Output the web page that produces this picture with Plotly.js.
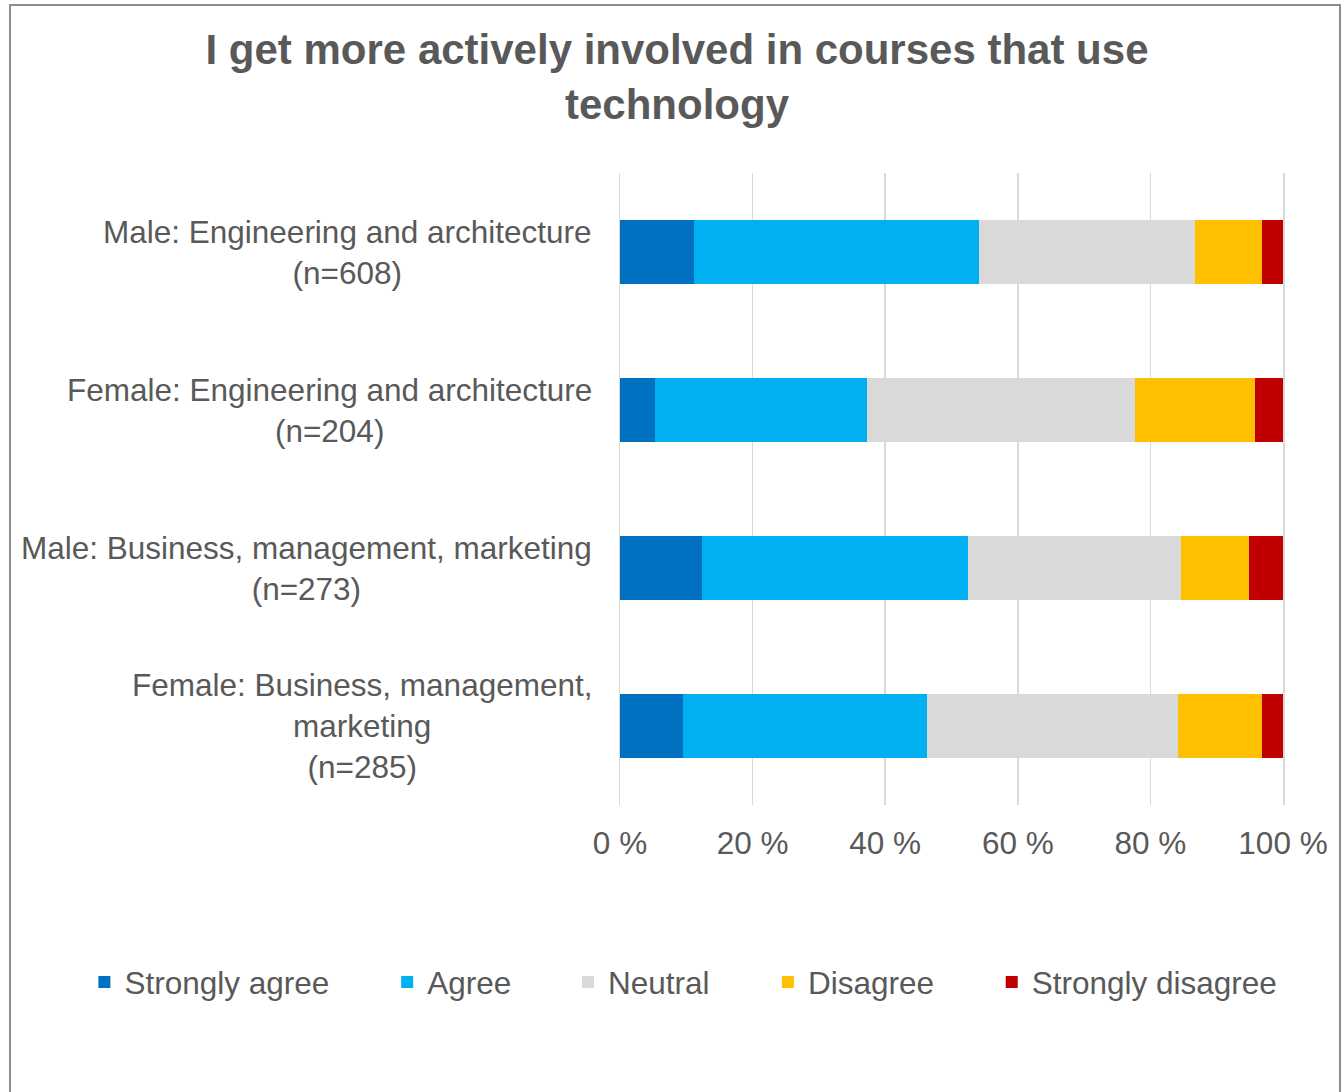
<!DOCTYPE html>
<html>
<head>
<meta charset="utf-8">
<script src="https://cdn.plot.ly/plotly-3.0.1.min.js"></script>
<style>
  html, body { margin: 0; padding: 0; background: #ffffff; overflow: hidden; }
  #wrap { position: relative; width: 1344px; height: 1092px; }
  #chart { position: absolute; left: 0; top: 0; width: 1344px; height: 1092px; }
  #frame { position: absolute; left: 9px; top: 4px; width: 1332px; height: 1200px;
           box-sizing: border-box; border: 2px solid #8e8e8e; pointer-events: none; }
</style>
</head>
<body>
<div id="wrap">
  <div id="chart"></div>
  <div id="frame"></div>
</div>
<script>
// ---- data ----
const categories = [
  'Male: Engineering and architecture',
  'Female: Engineering and architecture',
  'Male: Business, management, marketing',
  'Female: Business, management, marketing'
];
const tickLabels = [
  'Male: Engineering and architecture<br>(n=608)',
  'Female: Engineering and architecture<br>(n=204)',
  'Male: Business, management, marketing<br>(n=273)',
  'Female: Business, management,<br>marketing<br>(n=285)'
];
const seriesNames = ['Strongly agree', 'Agree', 'Neutral', 'Disagree', 'Strongly disagree'];
const stronglyAgree    = [11.2,  5.3, 12.4,  9.5];
const agree            = [42.9, 32.0, 40.1, 36.8];
const neutral          = [32.6, 40.4, 32.1, 37.9];
const disagree         = [10.2, 18.1, 10.3, 12.6];
const stronglyDisagree = [ 3.1,  4.2,  5.1,  3.2];
const xTickValues = [0, 20, 40, 60, 80, 100];
const xTickLabels = ['0 %', '20 %', '40 %', '60 %', '80 %', '100 %'];
const titleText = 'I get more actively involved in courses that use<br>technology';

// ---- styling ----
const seriesValues = [stronglyAgree, agree, neutral, disagree, stronglyDisagree];
const seriesColors = ['#0070C0', '#00B0F0', '#D9D9D9', '#FFC000', '#C00000'];
const legendIds = ['legend', 'legend2', 'legend3', 'legend4', 'legend5'];
const legendX = [100, 403, 584, 784, 1008];   // pixel left of each legend entry
const FONT = '"Liberation Sans", Arial, sans-serif';
const TXT = '#595959';
const FS = 31.5;

const plotLeft = 620, plotRight = 1283.5, plotTop = 173, plotBottom = 805;
const W = 1344, H = 1092;
const pw = plotRight - plotLeft, ph = plotBottom - plotTop;

const traces = seriesNames.map((name, i) => ({
  type: 'bar',
  orientation: 'h',
  name: name,
  x: seriesValues[i],
  y: categories,
  marker: { color: seriesColors[i], line: { width: 0 } },
  legend: legendIds[i],
  hoverinfo: 'name+x'
}));

const layout = {
  width: W, height: H,
  paper_bgcolor: '#ffffff', plot_bgcolor: '#ffffff',
  margin: { l: plotLeft, r: W - plotRight, t: plotTop, b: H - plotBottom, pad: 0 },
  barmode: 'stack',
  bargap: 0.6,
  font: { family: FONT, color: TXT, size: FS },
  title: {
    text: titleText,
    font: { family: FONT, size: 42, color: TXT, weight: 'bold' },
    xref: 'container', x: 677 / W, xanchor: 'center',
    yref: 'container', y: 1 - 64 / H, yanchor: 'top'
  },
  xaxis: {
    range: [0, 100],
    tickmode: 'array',
    tickvals: xTickValues,
    ticktext: xTickLabels,
    showgrid: true, gridcolor: '#d9d9d9', gridwidth: 1.5,
    zeroline: false, showline: false,
    ticks: '',
    ticklabelstandoff: 16,
    tickfont: { family: FONT, size: FS, color: TXT },
    fixedrange: true
  },
  yaxis: {
    type: 'category',
    categoryorder: 'array', categoryarray: categories,
    range: [3.5, -0.5],
    showticklabels: false, showgrid: false, zeroline: false,
    showline: true, mirror: true, linecolor: '#d9d9d9', linewidth: 1.5,
    ticks: '', fixedrange: true
  },
  annotations: categories.map((c, i) => ({
    xref: 'paper', x: 0, xanchor: 'right', xshift: -26,
    yref: 'y', y: c, yanchor: 'middle',
    text: tickLabels[i], align: 'center', showarrow: false,
    font: { family: FONT, size: FS, color: TXT }
  })),
  showlegend: true
};

legendIds.forEach((id, i) => {
  layout[id] = {
    orientation: 'h',
    x: (legendX[i] - 16 - plotLeft) / pw, xanchor: 'left',
    y: (plotBottom - 982) / ph, yanchor: 'middle',
    font: { family: FONT, size: FS, color: TXT },
    bgcolor: 'rgba(0,0,0,0)', borderwidth: 0
  };
});

Plotly.newPlot('chart', traces, layout, { displayModeBar: false, staticPlot: true });
</script>
</body>
</html>
